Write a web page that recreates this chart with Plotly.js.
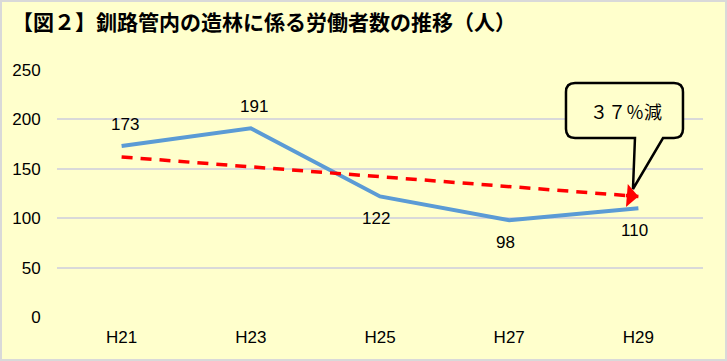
<!DOCTYPE html>
<html><head><meta charset="utf-8">
<script src="https://cdn.plot.ly/plotly-3.0.1.min.js"></script>
<style>html,body{margin:0;padding:0;background:#FFFFCC;}#chart{width:727px;height:361px;}</style>
</head><body><div id="chart"></div>
<script>
const categories = ["H21","H23","H25","H27","H29"];
const workers = [173,191,122,98,110];
const trendX = ["H21","H29"];
const trendY = [162,122];
const labelSide = ["above","above","below","below","below"];
const calloutText = "３７％減";
const titleText = "【図２】釧路管内の造林に係る労働者数の推移（人）";

const W=727,H=361,L=57,R=24,T=70,B=44;
const pw=W-L-R, ph=H-T-B;
function px(x){return ((x-L)/pw).toFixed(4);}
function py(y){return ((H-B-y)/ph).toFixed(4);}
function P(x,y){return px(x)+","+py(y);}
// callout rounded box with tail
const x0=566,x1=683,y0=83,y1=138,r=9;
const tail1=635,tail2=663,tipX=633,tipY=189;
const path = "M"+P(x0+r,y0)+" L"+P(x1-r,y0)+" Q"+P(x1,y0)+" "+P(x1,y0+r)+
 " L"+P(x1,y1-r)+" Q"+P(x1,y1)+" "+P(x1-r,y1)+
 " L"+P(tail2,y1)+" L"+P(tipX,tipY)+" L"+P(tail1,y1)+
 " L"+P(x0+r,y1)+" Q"+P(x0,y1)+" "+P(x0,y1-r)+
 " L"+P(x0,y0+r)+" Q"+P(x0,y0)+" "+P(x0+r,y0)+" Z";

const jp = "'Noto Sans CJK JP', 'DejaVu Sans', sans-serif";
const num = "'Liberation Sans', Arial, sans-serif";
const data = [
 {x:categories,y:workers,type:"scatter",mode:"lines",
  line:{color:"#5B9BD5",width:4},hoverinfo:"skip",cliponaxis:false},
 {x:trendX,y:trendY,type:"scatter",mode:"lines",
  line:{color:"#FF0000",width:3.5,dash:"11px,8px"},
  hoverinfo:"skip",cliponaxis:false}
];
const labelAnns = categories.map((c,i)=>({x:c,y:workers[i],xref:"x",yref:"y",text:String(workers[i]),
  showarrow:false,xanchor:"center",yanchor:"middle",yshift:labelSide[i]==="above"?22:-22,xshift:labelSide[i]==="above"?3:-4,
  font:{size:17,family:num,color:"#000"}}));
const arrowAnn = {x:trendX[1],y:trendY[1],xref:"x",yref:"y",text:"",showarrow:true,
  ax:-14,ay:-1.1,axref:"pixel",ayref:"pixel",arrowhead:1,arrowsize:1.1,arrowwidth:3.5,arrowcolor:"#FF0000",standoff:0};
const layout = {
 width:W,height:H,margin:{l:L,r:R,t:T,b:B},
 paper_bgcolor:"#FFFFCC",plot_bgcolor:"#FFFFCC",showlegend:false,
 font:{family:num,color:"#000"},
 title:{text:titleText,x:12/W,xref:"container",xanchor:"left",y:1-23/H,yref:"container",yanchor:"middle",
   font:{size:21,color:"#000",family:jp,weight:"bold"}},
 xaxis:{type:"category",range:[-0.5,4.5],showgrid:false,zeroline:false,showline:false,
   tickfont:{size:17,family:num},ticks:"outside",ticklen:5,tickcolor:"rgba(0,0,0,0)"},
 yaxis:{range:[0,250],dtick:50,showgrid:true,gridcolor:"#D9D9D9",gridwidth:2,
   zeroline:false,showline:false,tickfont:{size:17,family:num},ticks:"outside",ticklen:12,tickcolor:"rgba(0,0,0,0)"},
 shapes:[
  {type:"path",xref:"paper",yref:"paper",path:path,fillcolor:"#FFFFCC",line:{color:"#000",width:2.5}},
  {type:"rect",xref:"paper",yref:"paper",x0:px(1),x1:px(W-1),y0:py(H-1),y1:py(1),line:{color:"#D9D9D9",width:2},fillcolor:"rgba(0,0,0,0)"}
 ],
 annotations:labelAnns.concat([arrowAnn,
  {xref:"paper",yref:"paper",x:px(626),y:py(111),text:calloutText,showarrow:false,
   font:{size:18,color:"#000",family:jp},xanchor:"center",yanchor:"middle"}
 ])
};
Plotly.newPlot("chart",data,layout,{displayModeBar:false,staticPlot:true});
</script></body></html>
